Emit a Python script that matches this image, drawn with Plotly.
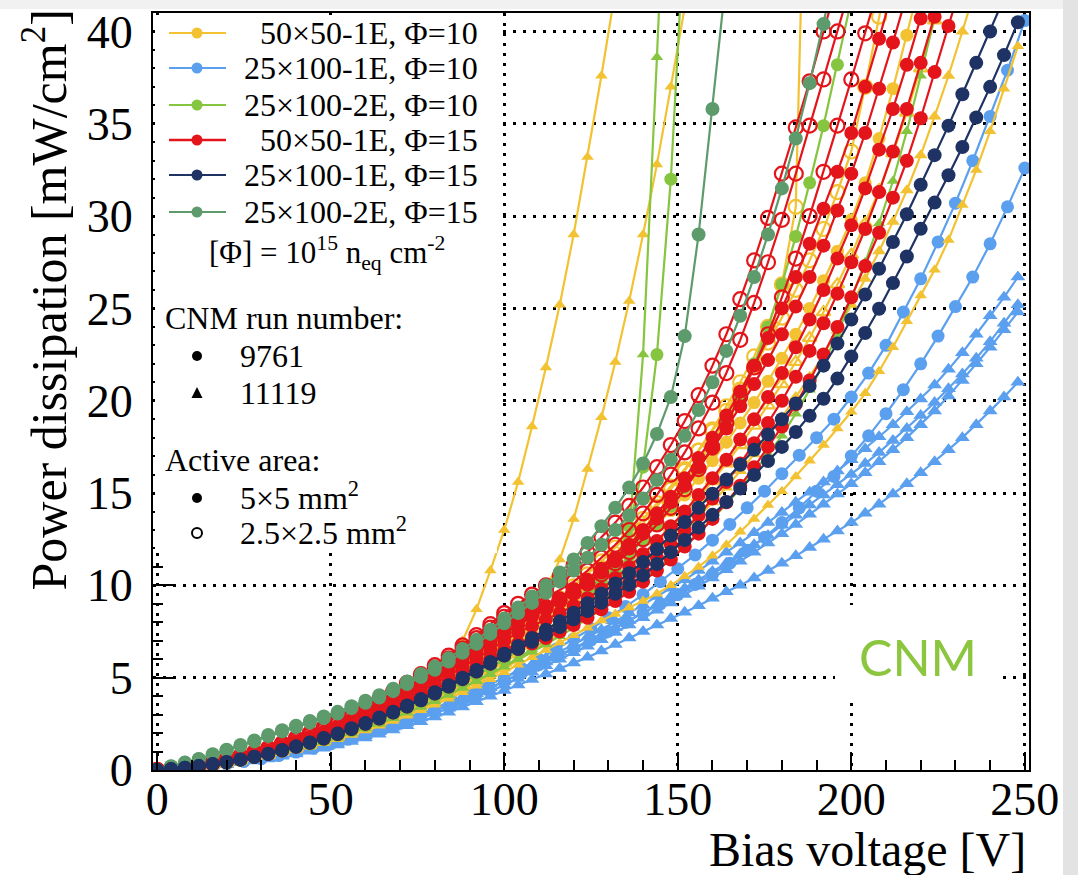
import plotly.graph_objects as go

# ---------------- data ----------------
V4 = [0, 4, 8, 12, 16, 20, 24, 28, 32, 36, 40, 44, 48, 52, 56, 60, 64, 68, 72, 76, 80, 84, 88, 92, 96, 100,
      104, 108, 112, 116, 120, 124, 128, 132, 136, 140, 144, 148, 152, 156, 160, 164, 168, 172, 176, 180,
      184, 188, 192, 196, 200, 204, 208, 212, 216, 220, 224, 228, 232, 236, 240, 244, 248]
V5 = [0, 5, 10, 15, 20, 25, 30, 35, 40, 45, 50, 55, 60, 65, 70, 75, 80, 85, 90, 95, 100,
      105, 110, 115, 120, 125, 130, 135, 140, 145, 150, 155, 160, 165, 170, 175, 180, 185, 190, 195, 200,
      205, 210, 215, 220, 225, 230, 235, 240, 245, 250]

# 25x100-1E, Phi=10 (light blue)
blue_tri_1 = [0, .04, .10, .17, .25, .34, .45, .58, .70, .86, 1.02, 1.19, 1.37, 1.58, 1.79, 2.02, 2.25, 2.51, 2.78, 3.05, 3.34, 3.65, 3.97, 4.30, 4.65, 5.0,
              5.35, 5.7, 6.05, 6.4, 6.8, 7.2, 7.6, 8.05, 8.5, 8.95, 9.4, 9.85, 10.3, 10.8, 11.3, 11.8, 12.3, 12.85, 13.4, 13.95, 14.5, 15.05, 15.6, 16.2, 16.8, 17.4, 18.05, 18.7, 19.4, 20.1, 20.85, 21.7, 22.6, 23.6, 24.6, 25.6, 26.7]
blue_tri_2 = [0, .04, .09, .16, .24, .33, .43, .55, .67, .82, .97, 1.14, 1.32, 1.51, 1.72, 1.93, 2.16, 2.41, 2.66, 2.93, 3.21, 3.50, 3.81, 4.13, 4.46, 4.8,
              5.15, 5.5, 5.85, 6.2, 6.55, 6.9, 7.3, 7.7, 8.1, 8.5, 8.95, 9.4, 9.85, 10.3, 10.75, 11.2, 11.7, 12.2, 12.7, 13.25, 13.8, 14.35, 14.9, 15.45, 16.0, 16.6, 17.2, 17.85, 18.5, 19.2, 19.9, 20.65, 21.45, 22.3, 23.2, 24.2, 25.2]
blue_tri_3 = [0, .04, .09, .16, .23, .31, .41, .53, .64, .79, .93, 1.09, 1.26, 1.45, 1.65, 1.85, 2.07, 2.31, 2.55, 2.81, 3.07, 3.35, 3.65, 3.96, 4.27, 4.6,
              4.95, 5.3, 5.65, 6.0, 6.35, 6.7, 7.05, 7.45, 7.85, 8.25, 8.65, 9.05, 9.5, 9.95, 10.4, 10.85, 11.3, 11.8, 12.3, 12.8, 13.3, 13.85, 14.4, 14.95, 15.5, 16.1, 16.7, 17.35, 18.0, 18.7, 19.45, 20.25, 21.1, 22.0, 22.9, 23.85, 24.8]
blue_tri_4 = [0, .03, .08, .15, .22, .29, .39, .49, .60, .74, .87, 1.02, 1.18, 1.35, 1.54, 1.73, 1.94, 2.16, 2.39, 2.62, 2.87, 3.13, 3.41, 3.70, 3.99, 4.3,
              4.6, 4.9, 5.2, 5.5, 5.8, 6.1, 6.45, 6.8, 7.15, 7.5, 7.85, 8.2, 8.55, 8.9, 9.3, 9.65, 10.0, 10.4, 10.8, 11.2, 11.6, 12.05, 12.5, 12.95, 13.4, 13.9, 14.4, 14.95, 15.5, 16.1, 16.7, 17.35, 18.0, 18.7, 19.45, 20.2, 21.0]
blue_circ_1 = [0, .05, .12, .22, .33, .46, .61, .78, .97, 1.18, 1.41, 1.66, 1.93, 2.22, 2.53, 2.86, 3.21, 3.58, 3.96, 4.37, 4.8,
               5.25, 5.7, 6.15, 6.6, 7.05, 7.5, 8.0, 8.5, 9.0, 9.5, 10.05, 10.6, 11.2, 11.9, 12.6, 13.4, 14.2, 15.1, 15.9, 17.0, 18.1, 19.3, 20.6, 22.0, 23.5, 25.1, 26.7, 28.5, 30.5, 32.6]
blue_circ_2 = [0, .06, .13, .23, .34, .48, .64, .82, 1.02, 1.23, 1.47, 1.73, 2.02, 2.32, 2.64, 2.98, 3.34, 3.73, 4.13, 4.56, 5.0,
               5.5, 6.0, 6.55, 7.1, 7.65, 8.25, 8.85, 9.5, 10.2, 10.9, 11.65, 12.45, 13.3, 14.2, 15.1, 16.05, 17.05, 18.0, 19.0, 20.2, 21.5, 23.0, 24.8, 26.6, 28.6, 30.7, 33.0, 35.4, 37.9, 40.6]

# 50x50-1E, Phi=10 (yellow)
yel_tri_h = [0, .04, .10, .18, .27, .36, .48, .61, .74, .91, 1.08, 1.26, 1.45, 1.67, 1.90, 2.14, 2.39, 2.66, 2.94, 3.23, 3.54, 3.86, 4.21, 4.56, 4.92, 5.3,
             5.7, 6.1, 6.5, 6.9, 7.3, 7.7, 8.1, 8.45, 8.8, 9.15, 9.55, 10.0, 10.5, 11.0, 11.6, 12.2, 12.9, 13.6, 14.35, 15.1, 15.9, 16.75, 17.6, 18.5, 19.4, 20.4, 21.6, 22.9, 24.3, 25.7, 27.1, 28.7, 30.6, 32.5, 34.6, 36.9, 39.2]
yel_tri_3 = [0, .04, .10, .19, .28, .37, .50, .63, .77, .94, 1.12, 1.30, 1.51, 1.73, 1.97, 2.22, 2.48, 2.76, 3.05, 3.36, 3.67, 4.01, 4.37, 4.73, 5.11, 5.5,
             5.95, 6.4, 6.9, 7.4, 7.9, 8.45, 9.0, 9.6, 10.2, 10.85, 11.5, 12.2, 12.9, 13.7, 14.5, 15.3, 16.2, 17.1, 18.1, 19.1, 20.2, 21.3, 22.5, 23.8, 25.2, 26.6, 28.1, 29.7, 31.4, 33.3, 35.4, 37.6, 40.0, 42.5]
yel_tri_4 = [0, .05, .11, .20, .29, .39, .52, .67, .81, .99, 1.18, 1.37, 1.59, 1.83, 2.08, 2.34, 2.61, 2.91, 3.22, 3.54, 3.87, 4.23, 4.61, 4.99, 5.39, 5.8,
             6.3, 6.8, 7.3, 7.85, 8.4, 9.0, 9.6, 10.25, 10.9, 11.6, 12.35, 13.1, 13.9, 14.75, 15.65, 16.6, 17.6, 18.65, 19.75, 20.9, 22.1, 23.4, 24.8, 26.3, 27.9, 29.6, 31.4, 33.4, 35.6, 38.0, 40.6, 43.3]
yel_circ_5 = [0, .05, .12, .22, .33, .44, .59, .75, .91, 1.11, 1.32, 1.54, 1.78, 2.05, 2.33, 2.62, 2.93, 3.26, 3.61, 3.97, 4.34, 4.74, 5.16, 5.59, 6.04, 6.5,
              7.0, 7.5, 8.05, 8.6, 9.2, 9.8, 10.45, 11.1, 11.8, 12.5, 13.25, 14.05, 14.9, 15.8, 16.75, 17.75, 18.8, 19.9, 21.05, 22.3, 23.6, 25.0, 26.5, 28.1, 29.8, 31.8, 34.2, 36.9, 39.8, 42.8]
yel_open_6 = [0, .06, .13, .24, .35, .48, .63, .81, .98, 1.20, 1.42, 1.66, 1.92, 2.21, 2.51, 2.82, 3.15, 3.51, 3.89, 4.27, 4.68, 5.10, 5.56, 6.02, 6.50, 7.0,
              7.55, 8.1, 8.7, 9.3, 9.95, 10.6, 11.3, 12.05, 12.8, 13.6, 14.45, 15.35, 16.3, 17.3, 18.35, 19.45, 20.6, 21.85, 23.15, 24.5, 26.0, 27.6, 29.3, 31.3, 33.5, 37.0, 40.8, 44.5]
yel_open_7 = [0, .05, .13, .23, .34, .46, .61, .78, .95, 1.16, 1.38, 1.61, 1.86, 2.14, 2.43, 2.74, 3.06, 3.41, 3.77, 4.15, 4.54, 4.96, 5.40, 5.85, 6.32, 6.8,
              7.3, 7.85, 8.4, 9.0, 9.6, 10.25, 10.95, 11.7, 12.5, 13.35, 14.25, 15.2, 16.2, 17.3, 18.45, 19.7, 21.0, 22.4, 24.0, 26.3, 30.5, 60.0]
yel_tri_2 = [0, .06, .13, .24, .35, .48, .63, .81, .98, 1.20, 1.42, 1.66, 1.92, 2.21, 2.51, 2.82, 3.15, 3.51, 3.89, 4.27, 4.68, 5.10, 5.56, 6.02, 6.50, 7.0,
             7.6, 8.5, 9.8, 11.4, 13.6, 16.3, 19.1, 22.1, 25.4, 29.0, 32.8, 37.0, 41.3]
yel_tri_1 = [0, .05, .11, .20, .30, .41, .54, .69, .84, 1.03, 1.22, 1.42, 1.64, 1.89, 2.15, 2.42, 2.70, 3.01, 3.33, 3.66,
             4.1, 5.3, 7.0, 8.7, 10.8, 13.0, 15.6, 18.6, 21.8, 25.2, 29.0, 33.2, 37.6, 42.2]

# 25x100-2E, Phi=10 (light green)
lg_tri_4 = [0, .04, .11, .19, .28, .38, .50, .64, .78, .96, 1.14, 1.33, 1.53, 1.76, 2.00, 2.26, 2.52, 2.81, 3.11, 3.42, 3.74, 4.08, 4.45, 4.82, 5.20, 5.6,
            6.0, 6.4, 6.8, 7.25, 7.7, 8.2, 8.7, 9.2, 9.75, 10.3, 10.9, 11.5, 12.15, 12.85, 13.6, 14.4, 15.25, 16.15, 17.1, 18.1, 19.3, 20.6, 22.0, 23.6, 25.5, 27.5, 29.6, 31.9, 34.6, 37.6, 40.8, 44.2]
lg_circ_3 = [0, .05, .11, .20, .30, .41, .54, .69, .84, 1.03, 1.22, 1.42, 1.64, 1.89, 2.15, 2.42, 2.70, 3.01, 3.33, 3.66, 4.01, 4.37, 4.76, 5.16, 5.57, 6.0,
             6.5, 7.0, 7.55, 8.1, 8.7, 9.35, 10.05, 10.8, 11.6, 12.45, 13.35, 14.3, 15.3, 16.35, 17.5, 18.8, 20.3, 22.0, 24.0, 26.3, 28.9, 31.8, 34.9, 38.2, 41.7]
lg_circ_2 = [0, .05, .11, .20, .30, .41, .54, .69, .84, 1.03, 1.22, 1.42, 1.64, 1.89, 2.15, 2.42, 2.70, 3.01, 3.33, 3.66, 4.01, 4.37, 4.76, 5.16, 5.57, 6.0,
             6.5, 7.0, 7.55, 8.1, 8.7, 9.4, 10.2, 11.2, 13.2, 16.4, 22.5, 32.0, 46.0]
lg_tri_1 = [0, .04, .11, .19, .28, .38, .50, .64, .78, .96, 1.14, 1.33, 1.53, 1.76, 2.00, 2.26, 2.52, 2.81, 3.11, 3.42, 3.74, 4.08, 4.45, 4.82, 5.20, 5.6,
            6.05, 6.55, 7.05, 7.6, 8.2, 8.85, 9.6, 10.6, 12.8, 22.5, 38.6, 56.0]

# 50x50-1E, Phi=15 (red)
red_circ_8 = [0, .06, .13, .24, .35, .48, .63, .81, .98, 1.20, 1.42, 1.66, 1.92, 2.21, 2.51, 2.82, 3.15, 3.51, 3.89, 4.27, 4.68, 5.10, 5.56, 6.02, 6.50, 7.0,
              7.45, 7.8, 8.15, 8.5, 8.9, 9.3, 9.8, 10.4, 11.0, 11.7, 12.4, 13.2, 14.0, 14.9, 15.8, 16.8, 17.9, 19.0, 20.2, 21.5, 22.9, 24.4, 26.0, 27.7, 29.5, 31.5, 33.6, 35.8, 38.2, 40.7, 43.3]
red_circ_7 = [0, .05, .12, .21, .31, .42, .56, .71, .87, 1.06, 1.26, 1.47, 1.70, 1.95, 2.22, 2.50, 2.79, 3.11, 3.44, 3.78, 4.14, 4.52, 4.92, 5.33, 5.76, 6.2,
              6.55, 6.85, 7.15, 7.5, 7.85, 8.25, 8.7, 9.15, 9.65, 10.2, 10.8, 11.4, 12.1, 12.8, 13.6, 14.5, 15.4, 16.4, 17.5, 18.6, 19.8, 21.1, 22.5, 24.0, 25.6, 27.3, 29.1, 31.0, 33.0, 35.3, 37.8, 40.3, 42.8]
red_circ_6 = [0, .05, .12, .22, .33, .44, .59, .75, .91, 1.11, 1.32, 1.54, 1.78, 2.05, 2.33, 2.62, 2.93, 3.26, 3.61, 3.97, 4.34, 4.74, 5.16, 5.59, 6.04, 6.5,
              6.85, 7.2, 7.5, 7.8, 8.15, 8.6, 9.1, 9.6, 10.2, 10.8, 11.5, 12.2, 13.0, 13.8, 14.7, 15.6, 16.6, 17.7, 18.8, 20.0, 21.3, 22.7, 24.2, 25.8, 27.5, 29.3, 31.3, 33.5, 35.8, 38.3, 40.8, 43.4]
red_circ_5 = [0, .06, .14, .25, .37, .50, .67, .85, 1.04, 1.27, 1.50, 1.75, 2.03, 2.33, 2.65, 2.98, 3.33, 3.71, 4.11, 4.51, 4.94, 5.39, 5.88, 6.36, 6.87, 7.4,
              7.85, 8.3, 8.7, 9.1, 9.6, 10.1, 10.7, 11.3, 12.0, 12.8, 13.6, 14.5, 15.4, 16.4, 17.4, 18.5, 19.7, 20.9, 22.2, 23.6, 25.1, 26.7, 28.4, 30.3, 32.3, 34.5, 36.9, 39.4, 42.0]
red_circ_4 = [0, .06, .14, .26, .38, .52, .68, .87, 1.06, 1.30, 1.54, 1.80, 2.08, 2.39, 2.72, 3.06, 3.42, 3.82, 4.22, 4.64, 5.08, 5.54, 6.03, 6.54, 7.06, 7.6,
              8.1, 8.5, 8.9, 9.3, 9.8, 10.3, 10.9, 11.5, 12.2, 13.0, 13.9, 14.8, 15.8, 16.9, 18.0, 19.2, 20.5, 21.9, 23.4, 25.0, 26.7, 28.5, 30.4, 32.4, 34.5, 37.0, 39.6, 42.3]
red_open_3 = [0, .06, .15, .27, .40, .54, .71, .91, 1.11, 1.35, 1.60, 1.87, 2.16, 2.49, 2.83, 3.18, 3.56, 3.97, 4.38, 4.82, 5.28, 5.76, 6.27, 6.79, 7.34, 7.9,
              8.2, 8.5, 8.8, 9.2, 9.6, 10.1, 10.6, 11.2, 11.8, 12.5, 13.3, 14.2, 15.2, 16.3, 17.5, 18.8, 20.2, 21.8, 23.6, 25.6, 27.7, 30.0, 32.4, 34.9, 37.4, 39.9, 42.5]
red_open_2 = [0, .07, .16, .28, .42, .56, .75, .95, 1.16, 1.42, 1.68, 1.97, 2.27, 2.61, 2.97, 3.34, 3.74, 4.17, 4.61, 5.06, 5.54, 6.05, 6.59, 7.14, 7.71, 8.3,
              8.65, 9.0, 9.35, 9.75, 10.2, 10.8, 11.5, 12.2, 13.0, 13.9, 14.9, 16.0, 17.2, 18.5, 19.9, 21.5, 23.3, 25.3, 27.5, 29.8, 32.3, 34.9, 37.4, 40.0, 42.6]
red_open_1 = [0, .07, .16, .29, .43, .58, .77, .98, 1.19, 1.45, 1.73, 2.01, 2.33, 2.68, 3.04, 3.43, 3.83, 4.27, 4.72, 5.19, 5.68, 6.20, 6.75, 7.31, 7.90, 8.5,
              9.0, 9.5, 10.0, 10.5, 11.1, 11.8, 12.6, 13.4, 14.3, 15.3, 16.4, 17.6, 18.9, 20.3, 21.9, 23.6, 25.5, 27.6, 29.9, 32.3, 34.8, 37.3, 40.0, 42.7]

# 25x100-2E, Phi=15 (sea green)
sg_circ_e = [0, .19, .39, .58, .82, 1.07, 1.31, 1.55, 1.84, 2.09, 2.33, 2.57, 2.81, 3.06, 3.35, 3.64, 3.93, 4.27, 4.66, 5.04, 5.43, 5.87, 6.35, 6.84, 7.37, 7.95,
             8.5, 9.05, 9.6, 10.2, 10.8, 11.5, 12.2, 13.0, 13.8, 14.7, 15.7, 16.8, 18.1, 19.5, 21.0, 22.7, 24.6, 26.7, 29.0, 31.5, 34.2, 37.2, 40.4, 43.8]
sg_circ_d = [0, .2, .4, .6, .85, 1.1, 1.35, 1.6, 1.9, 2.15, 2.4, 2.65, 2.9, 3.15, 3.45, 3.75, 4.05, 4.4, 4.8, 5.2, 5.6, 6.05, 6.55, 7.05, 7.6, 8.2,
             8.8, 9.4, 10.0, 10.7, 11.4, 12.3, 13.2, 14.2, 15.3, 16.6, 18.2, 20.2, 23.5, 29.0, 35.8, 43.0]

# 25x100-1E, Phi=15 (navy)
navy_circ_2 = [0, .05, .12, .21, .32, .43, .57, .72, .88, 1.08, 1.28, 1.49, 1.73, 1.98, 2.26, 2.54, 2.84, 3.16, 3.50, 3.84, 4.21, 4.59, 5.0, 5.42, 5.85, 6.3,
               6.72, 7.15, 7.6, 8.05, 8.52, 9.03, 9.55, 10.1, 10.66, 11.26, 11.96, 12.7, 13.43, 14.2, 14.96, 15.73, 16.53, 17.34, 18.17, 19.0, 19.85, 20.8, 21.9, 23.1, 24.4, 25.75, 27.15, 28.6, 30.1, 31.7, 33.3, 34.9, 36.6, 38.3, 40.0, 41.8]
navy_circ_1 = [0, .05, .12, .21, .31, .42, .56, .71, .87, 1.06, 1.26, 1.47, 1.70, 1.95, 2.22, 2.50, 2.79, 3.11, 3.44, 3.78, 4.14, 4.52, 4.92, 5.33, 5.76, 6.2,
               6.56, 6.94, 7.33, 7.74, 8.16, 8.61, 9.06, 9.54, 10.03, 10.54, 11.16, 11.8, 12.46, 13.13, 13.82, 14.52, 15.24, 15.98, 16.73, 17.5, 18.31, 19.18, 20.11, 21.2, 22.4, 23.67, 24.98, 26.37, 27.81, 29.31, 30.73, 32.21, 33.74, 35.34, 37.0, 38.72, 40.5]

legend_labels = ["50×50-1E, Φ=10", "25×100-1E, Φ=10", "25×100-2E, Φ=10",
                 "50×50-1E, Φ=15", "25×100-1E, Φ=15", "25×100-2E, Φ=15"]

# ---------------- styles ----------------
YEL = "#F2C232"
LBL = "#5B9FEF"
LGR = "#86C540"
RED = "#E3151B"
NAV = "#1E3263"
SGR = "#5E9B6C"
legend_colors = [YEL, LBL, LGR, RED, NAV, SGR]

SERIF = "Liberation Serif, Times New Roman, serif"

# (values, xgrid, color, symbol, size)
traces = [
    (blue_tri_4, V4, LBL, "triangle-up", 13),
    (blue_tri_3, V4, LBL, "triangle-up", 13),
    (blue_tri_2, V4, LBL, "triangle-up", 13),
    (blue_tri_1, V4, LBL, "triangle-up", 13),
    (blue_circ_1, V5, LBL, "circle", 13),
    (blue_circ_2, V5, LBL, "circle", 13),
    (yel_tri_h, V4, YEL, "triangle-up", 11),
    (yel_tri_3, V4, YEL, "triangle-up", 12),
    (yel_tri_4, V4, YEL, "triangle-up-open", 12),
    (yel_circ_5, V4, YEL, "circle", 13),
    (yel_open_6, V4, YEL, "circle-open", 14),
    (yel_open_7, V4, YEL, "circle-open", 14),
    (yel_tri_2, V4, YEL, "triangle-up", 11),
    (yel_tri_1, V4, YEL, "triangle-up", 11),
    (lg_tri_4, V4, LGR, "triangle-up", 11),
    (lg_circ_3, V4, LGR, "circle", 13),
    (lg_circ_2, V4, LGR, "circle", 13),
    (lg_tri_1, V4, LGR, "triangle-up", 11),
    (red_circ_8, V4, RED, "circle", 14),
    (red_circ_7, V4, RED, "circle", 14),
    (red_circ_6, V4, RED, "circle", 14),
    (red_circ_5, V4, RED, "circle", 14),
    (red_circ_4, V4, RED, "circle", 14),
    (red_open_3, V4, RED, "circle-open", 14),
    (red_open_2, V4, RED, "circle-open", 14),
    (red_open_1, V4, RED, "circle-open", 14),
    (sg_circ_e, V4, SGR, "circle", 14),
    (sg_circ_d, V4, SGR, "circle", 14),
    (navy_circ_2, V4, NAV, "circle", 14),
    (navy_circ_1, V4, NAV, "circle", 14),
]

fig = go.Figure()
for vals, grid, col, sym, size in traces:
    fig.add_trace(go.Scatter(
        x=grid[:len(vals)], y=vals, mode="lines+markers",
        line=dict(color=col, width=2.2),
        marker=dict(color=col, symbol=sym, size=size,
                    line=dict(color=col, width=2.2 if "open" in sym else 0)),
        showlegend=False, hoverinfo="skip"))

# ---------------- layout helpers (pixel -> paper) ----------------
L, R, T, B = 153, 1029, 13, 770
def PX(p):
    return (p - L) / (R - L)
def PY(p):
    return (B - p) / (B - T)

shapes = []
annotations = []

# white legend panel and CNM label panel (hide the grid and ticks there)
shapes.append(dict(type="rect", xref="paper", yref="paper", x0=PX(155), x1=PX(497), y0=PY(553), y1=PY(15),
                   fillcolor="white", line=dict(width=0), layer="above"))
shapes.append(dict(type="rect", xref="paper", yref="paper", x0=PX(835), x1=PX(997), y0=PY(698), y1=PY(605),
                   fillcolor="white", line=dict(width=0), layer="above"))

# legend entries
rows = [33, 68, 105, 140, 175, 212]
for lab, col, ry in zip(legend_labels, legend_colors, rows):
    shapes.append(dict(type="line", xref="paper", yref="paper", x0=PX(169), x1=PX(226), y0=PY(ry), y1=PY(ry),
                       line=dict(color=col, width=2.5 if col == RED else 2), layer="above"))
    r = 5.5
    shapes.append(dict(type="circle", xref="paper", yref="paper", x0=PX(197 - r), x1=PX(197 + r),
                       y0=PY(ry + r), y1=PY(ry - r), fillcolor=col, line=dict(color=col, width=0), layer="above"))
    annotations.append(dict(text=lab, xref="paper", yref="paper", x=PX(480), y=PY(ry), xanchor="right",
                            yanchor="middle", showarrow=False, font=dict(family=SERIF, size=32, color="black")))

annotations.append(dict(text="[Φ] = 10<sup>15</sup> n<sub>eq</sub> cm<sup>-2</sup>", xref="paper", yref="paper",
                        x=PX(327), y=PY(253), xanchor="center", yanchor="middle", showarrow=False,
                        font=dict(family=SERIF, size=31, color="black")))
annotations.append(dict(text="CNM run number:", xref="paper", yref="paper", x=PX(163), y=PY(318),
                        xanchor="left", yanchor="middle", showarrow=False, font=dict(family=SERIF, size=32, color="black")))
annotations.append(dict(text="9761", xref="paper", yref="paper", x=PX(238), y=PY(356),
                        xanchor="left", yanchor="middle", showarrow=False, font=dict(family=SERIF, size=32, color="black")))
annotations.append(dict(text="11119", xref="paper", yref="paper", x=PX(238), y=PY(393),
                        xanchor="left", yanchor="middle", showarrow=False, font=dict(family=SERIF, size=32, color="black")))
annotations.append(dict(text="Active area:", xref="paper", yref="paper", x=PX(163), y=PY(460),
                        xanchor="left", yanchor="middle", showarrow=False, font=dict(family=SERIF, size=32, color="black")))
annotations.append(dict(text="5×5 mm<sup>2</sup>", xref="paper", yref="paper", x=PX(238), y=PY(496),
                        xanchor="left", yanchor="middle", showarrow=False, font=dict(family=SERIF, size=32, color="black")))
annotations.append(dict(text="2.5×2.5 mm<sup>2</sup>", xref="paper", yref="paper", x=PX(238), y=PY(531),
                        xanchor="left", yanchor="middle", showarrow=False, font=dict(family=SERIF, size=32, color="black")))

# black marker keys
r = 5
for cy in (356, 498):
    shapes.append(dict(type="circle", xref="paper", yref="paper", x0=PX(197 - r), x1=PX(197 + r),
                       y0=PY(cy + r), y1=PY(cy - r), fillcolor="black", line=dict(width=0), layer="above"))
shapes.append(dict(type="circle", xref="paper", yref="paper", x0=PX(197 - r), x1=PX(197 + r),
                   y0=PY(533 + r), y1=PY(533 - r), fillcolor="rgba(0,0,0,0)", line=dict(color="black", width=2),
                   layer="above"))
shapes.append(dict(type="path", xref="paper", yref="paper",
                   path=f"M {PX(191.5)},{PY(398)} L {PX(202.5)},{PY(398)} L {PX(197)},{PY(387)} Z",
                   fillcolor="black", line=dict(width=0), layer="above"))

# axis titles
annotations.append(dict(text="Bias voltage [V]", xref="paper", yref="paper", x=PX(1028), y=PY(849),
                        xanchor="right", yanchor="middle", showarrow=False,
                        font=dict(family=SERIF, size=48, color="black")))
annotations.append(dict(text="Power dissipation [mW/cm<sup>2</sup>]", xref="paper", yref="paper",
                        x=PX(45), y=PY(8), xanchor="center", yanchor="top", textangle=-90, showarrow=False,
                        font=dict(family=SERIF, size=50, color="black")))

# CNM tag
annotations.append(dict(text="CNM", xref="paper", yref="paper", x=PX(918), y=PY(657),
                        xanchor="center", yanchor="middle", showarrow=False,
                        font=dict(family="Lato, Noto Sans, sans-serif", size=50, color="#8CC63F")))

# slide background edges
shapes.append(dict(type="rect", xref="paper", yref="paper", x0=PX(1063), x1=PX(1085), y0=PY(880), y1=PY(-5),
                   fillcolor="#E3E3E3", line=dict(width=0), layer="above"))
shapes.append(dict(type="rect", xref="paper", yref="paper", x0=PX(-5), x1=PX(1063), y0=PY(9), y1=PY(-5),
                   fillcolor="#F1F1F1", line=dict(width=0), layer="above"))

axis_common = dict(
    showline=True, linecolor="black", linewidth=2, mirror=True,
    ticks="inside", tickcolor="black", tickwidth=2,
    showgrid=True, gridcolor="black", gridwidth=2.5, griddash="2.5px,7.5px",
    zeroline=False, automargin=False,
    tickfont=dict(family=SERIF, size=46, color="black"),
)

fig.update_xaxes(range=[-1.2, 251.2], tick0=0, dtick=50, ticklen=18,
                 minor=dict(dtick=10, ticks="inside", ticklen=10, tickwidth=2, tickcolor="black", showgrid=False),
                 ticklabelstandoff=-12, **axis_common)
fig.update_yaxes(range=[0, 41], tick0=0, dtick=5, ticklen=20,
                 minor=dict(dtick=1, ticks="inside", ticklen=10, tickwidth=2, tickcolor="black", showgrid=False),
                 ticklabelstandoff=9, **axis_common)

fig.update_layout(
    template="none",
    width=1078, height=875,
    margin=dict(l=L, r=1078 - R, t=T, b=875 - B),
    paper_bgcolor="white", plot_bgcolor="white",
    showlegend=False,
    shapes=shapes, annotations=annotations,
)

fig.write_html("out.html")
